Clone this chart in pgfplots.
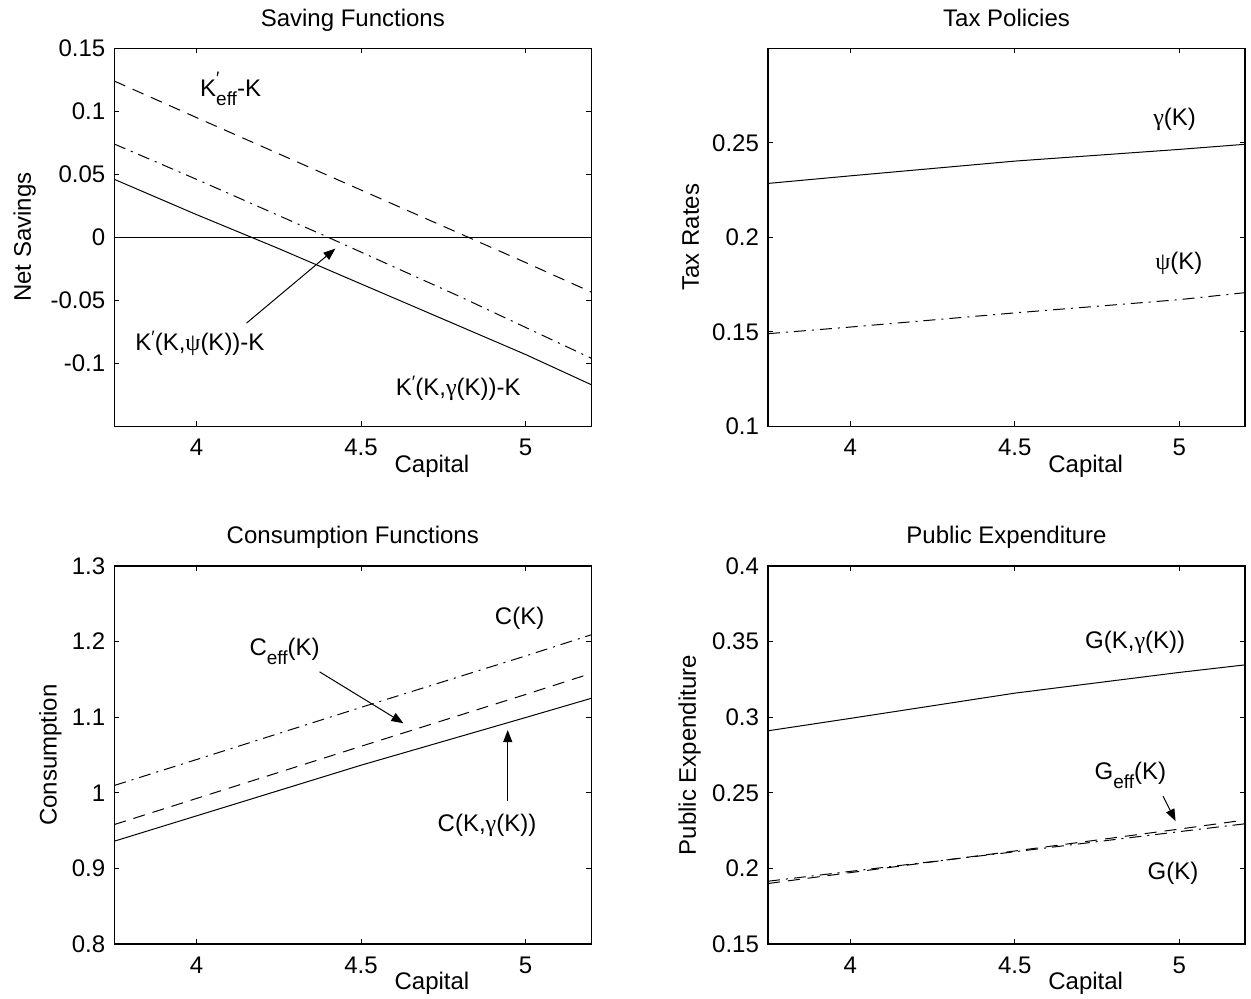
\documentclass[border=0pt]{standalone}
\usepackage{fontspec}
\setmainfont{Liberation Sans}
\newfontfamily\greek{Liberation Serif}
\usepackage{pgfplots}
\pgfplotsset{compat=1.18}
\usetikzlibrary{arrows.meta}
\newcommand{\gam}{{\greek γ}}
\newcommand{\psii}{{\greek ψ}}
\newcommand{\Kp}{K\raisebox{3.5pt}{\fontsize{9}{10}\selectfont ′}}
\newcommand{\sub}[1]{\raisebox{-4.5pt}{\fontsize{9.5}{11}\selectfont #1}}
\newcommand{\fs}{\fontsize{12}{14}\selectfont}
\pgfplotsset{
  matlab/.style={
    scale only axis, width=238.5pt, height=189pt,
    xmin=3.75, xmax=5.2, xtick={4,4.5,5},
    axis line style={line width=0.65pt},
    every tick/.style={black, line width=0.4pt},
    major tick length=2.5pt,
    tick align=inside,
    font=\fs,
    ticklabel style={font=\fs},
    /pgf/number format/assume math mode=true,
    xticklabel style={yshift=-3pt},
    yticklabel style={/pgf/number format/fixed, /pgf/number format/precision=2, xshift=-1pt},
    scaled ticks=false,
    xlabel style={at={(axis description cs:0.666,0)}, anchor=base, yshift=-23pt},
    title style={at={(axis description cs:0.5,1)}, anchor=base, yshift=5pt},
    every axis plot/.append style={black, line width=0.5pt},
    clip=false,
  },
  dsh/.style={black, dash pattern=on 6pt off 4pt},
  dd/.style={black, dash pattern=on 6pt off 3pt on 1pt off 3pt},
}
\tikzset{arr/.style={-{Triangle[length=6pt,width=4.5pt]}, line width=0.5pt}}
\begin{document}
\begin{tikzpicture}
\path[use as bounding box] (0,0) rectangle (625.5pt,499.5pt);
% ---------------- Saving Functions
\begin{axis}[matlab, at={(57.15pt,286.35pt)}, anchor=south west,
  ymin=-0.15, ymax=0.15, ytick={-0.1,-0.05,0,0.05,0.1,0.15},
  title={Saving Functions}, xlabel={Capital},
  ylabel={Net Savings}, ylabel style={at={(axis description cs:-0.188,0.5)}, anchor=center}]
\addplot[black, solid] coordinates {(3.75,0) (5.2,0)};
\addplot[black, solid] coordinates {(3.75,0.046) (4.0,0.018) (4.25,-0.009) (4.5,-0.037) (4.75,-0.065) (5.0,-0.093) (5.2,-0.117)};
\addplot[dsh] coordinates {(3.75,0.124) (4.0,0.095) (4.5,0.0375) (5.0,-0.020) (5.2,-0.0435)};
\addplot[dd] coordinates {(3.75,0.074) (4.0,0.046) (4.4,0.0) (4.8,-0.047) (5.2,-0.096)};
\node[anchor=base west, inner sep=0pt] at (axis cs:4.01,0.1116) {K\rlap{\raisebox{6pt}{\fontsize{9}{10}\selectfont ′}}\sub{eff}-K};
\node[anchor=base west, inner sep=0pt] at (axis cs:3.813,-0.0898) {\Kp(K,\psii(K))-K};
\node[anchor=base west, inner sep=0pt] at (axis cs:4.605,-0.1256) {\Kp(K,\gam(K))-K};
\draw[arr] (axis cs:4.152,-0.0681) -- (axis cs:4.422,-0.009);
\end{axis}
% ---------------- Tax Policies
\begin{axis}[matlab, at={(384pt,286.35pt)}, anchor=south west,
  ymin=0.1, ymax=0.3, ytick={0.1,0.15,0.2,0.25},
  title={Tax Policies}, xlabel={Capital},
  ylabel={Tax Rates}, ylabel style={at={(axis description cs:-0.162,0.5)}, anchor=center}]
\addplot[black, solid] coordinates {(3.75,0.2285) (4.0,0.2325) (4.5,0.2403) (5.0,0.2465) (5.2,0.2492)};
\addplot[dd] coordinates {(3.75,0.149) (4.0,0.1525) (4.5,0.160) (5.0,0.167) (5.2,0.1707)};
\node[anchor=base west, inner sep=0pt] at (axis cs:4.92,0.2593) {\gam(K)};
\node[anchor=base west, inner sep=0pt] at (axis cs:4.926,0.1828) {\psii(K)};
\end{axis}
% ---------------- Consumption Functions
\begin{axis}[matlab, at={(57.15pt,27.5pt)}, anchor=south west,
  ymin=0.8, ymax=1.3, ytick={0.8,0.9,1,1.1,1.2,1.3},
  title={Consumption Functions}, xlabel={Capital},
  ylabel={Consumption}, ylabel style={at={(axis description cs:-0.134,0.5)}, anchor=center}]
\addplot[black, solid] coordinates {(3.75,0.936) (4.0,0.9695) (4.5,1.0365) (5.0,1.0995) (5.2,1.125)};
\addplot[dsh] coordinates {(3.75,0.958) (4.0,0.9925) (4.5,1.0615) (5.0,1.130) (5.2,1.158)};
\addplot[dd] coordinates {(3.75,1.0097) (4.0,1.044) (4.5,1.113) (5.0,1.181) (5.2,1.209)};
\node[anchor=base west, inner sep=0pt] at (axis cs:4.906,1.222) {C(K)};
\node[anchor=base west, inner sep=0pt] at (axis cs:4.16,1.182) {C\sub{eff}(K)};
\node[anchor=base west, inner sep=0pt] at (axis cs:4.732,0.9494) {C(K,\gam(K))};
\draw[arr] (axis cs:4.374,1.160) -- (axis cs:4.629,1.092);
\draw[arr] (axis cs:4.946,0.989) -- (axis cs:4.946,1.083);
\end{axis}
% ---------------- Public Expenditure
\begin{axis}[matlab, at={(384pt,27.5pt)}, anchor=south west,
  ymin=0.15, ymax=0.4, ytick={0.15,0.2,0.25,0.3,0.35,0.4},
  title={Public Expenditure}, xlabel={Capital},
  ylabel={Public Expenditure}, ylabel style={at={(axis description cs:-0.164,0.5)}, anchor=center}]
\addplot[black, solid] coordinates {(3.75,0.291) (4.0,0.2992) (4.5,0.3159) (5.0,0.3296) (5.2,0.3346)};
\addplot[dsh] coordinates {(3.75,0.190) (4.0,0.1972) (4.5,0.2115) (5.0,0.2260) (5.2,0.232)};
\addplot[dd] coordinates {(3.75,0.1915) (4.0,0.1980) (4.5,0.2110) (5.0,0.2243) (5.2,0.2295)};
\node[anchor=base west, inner sep=0pt] at (axis cs:4.713,0.3456) {G(K,\gam(K))};
\node[anchor=base west, inner sep=0pt] at (axis cs:4.742,0.2590) {G\sub{eff}(K)};
\node[anchor=base west, inner sep=0pt] at (axis cs:4.903,0.1927) {G(K)};
\draw[arr] (axis cs:4.951,0.2478) -- (axis cs:4.989,0.2313);
\end{axis}
\end{tikzpicture}
\end{document}
